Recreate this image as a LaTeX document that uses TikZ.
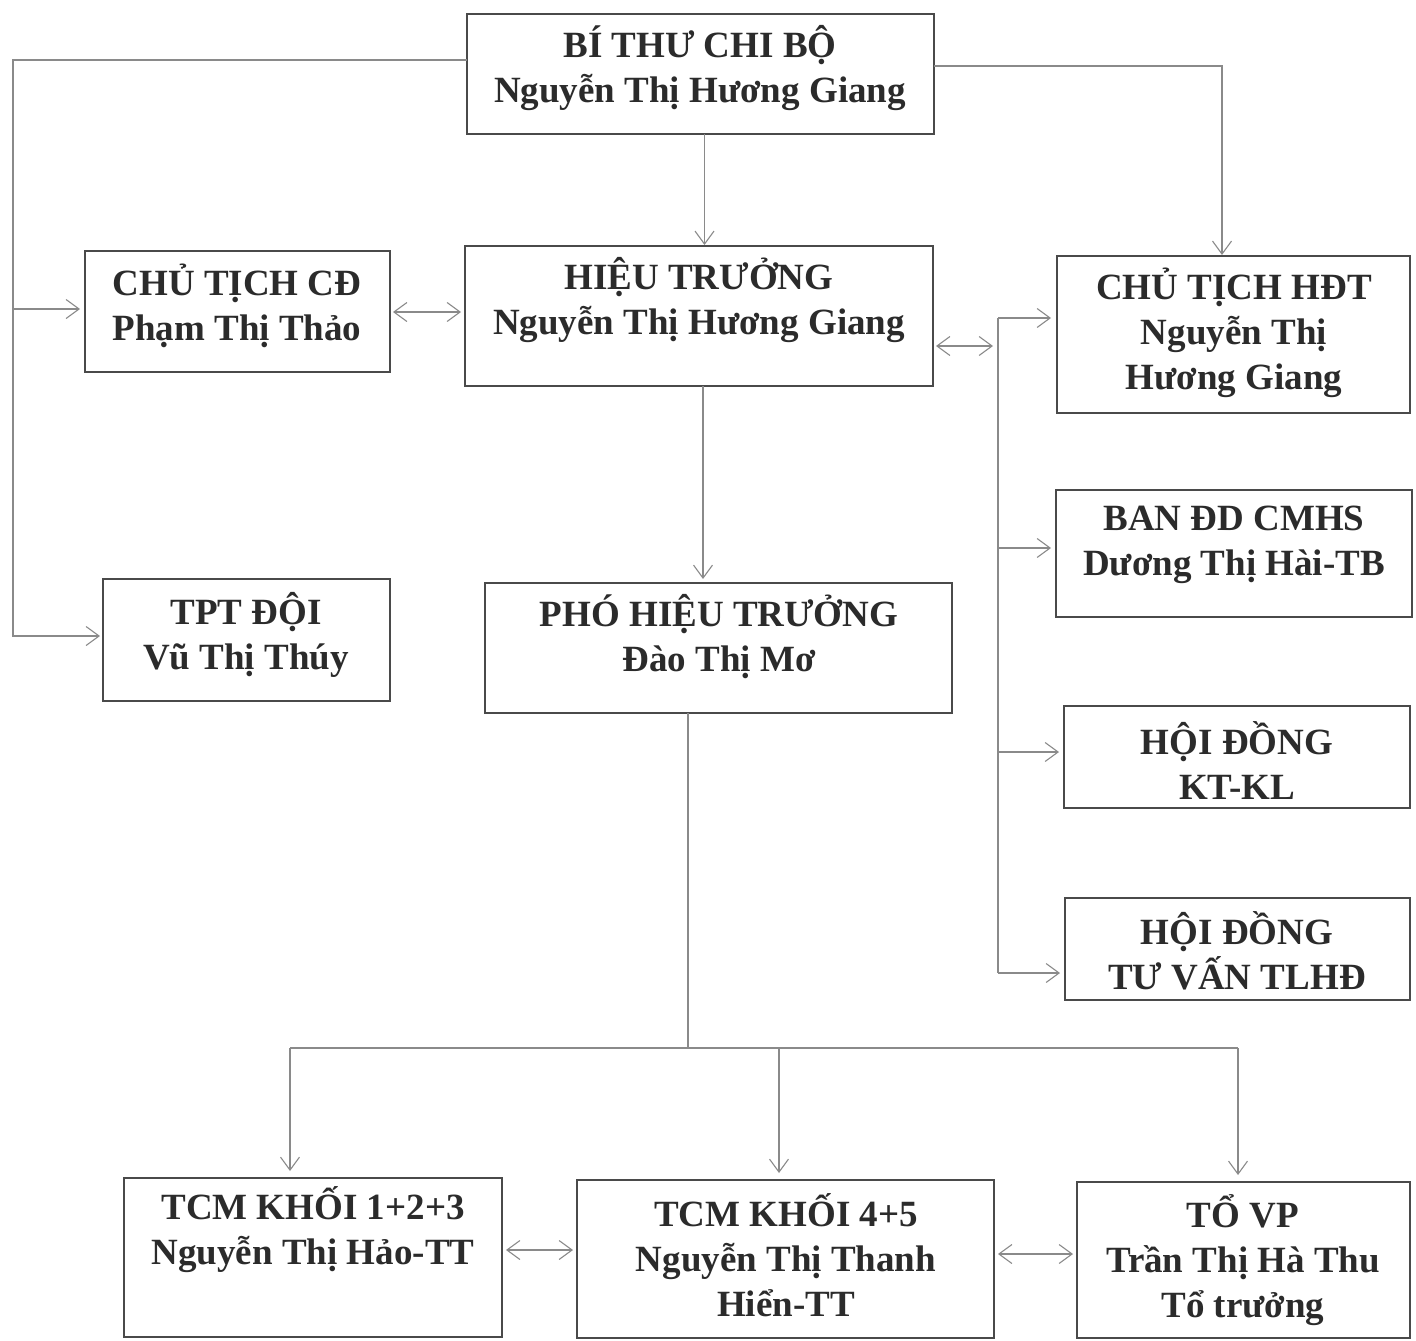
\documentclass[tikz,border=0pt]{standalone}
\usepackage{fontspec}
\setmainfont{Liberation Serif}
\usetikzlibrary{arrows.meta,calc}
\definecolor{boxc}{HTML}{4A4A4A}
\definecolor{linec}{HTML}{8A8A8A}
\definecolor{txtc}{HTML}{2B2B2B}
\begin{document}
\begin{tikzpicture}[x=1pt,y=-1pt,
  box/.style={draw=boxc,line width=1.4pt,inner sep=0pt,outer sep=0pt,rectangle},
  txt/.style={text=txtc,align=center,inner sep=0pt,font=\bfseries\fontsize{37}{45}\selectfont},
  conn/.style={draw=linec,line width=1.1pt},
  arr/.style={conn,-{Straight Barb[length=13pt,width=19pt,line width=1.1pt]}},
  dbl/.style={conn,{Straight Barb[length=13pt,width=19pt,line width=1.1pt]}-{Straight Barb[length=13pt,width=19pt,line width=1.1pt]}}]
\useasboundingbox[fill=white] (0,0) rectangle (1416,1341);

% boxes
\node[box,minimum width=467pt,minimum height=120pt] (bt) at (700.5,74) {};
\node[box,minimum width=305pt,minimum height=121pt] (ctcd) at (237.5,311.5) {};
\node[box,minimum width=468pt,minimum height=140pt] (ht) at (699,316) {};
\node[box,minimum width=353pt,minimum height=157pt] (hdt) at (1233.5,334.5) {};
\node[box,minimum width=356pt,minimum height=127pt] (ban) at (1234,553.5) {};
\node[box,minimum width=346pt,minimum height=102pt] (kt) at (1237,757) {};
\node[box,minimum width=345pt,minimum height=102pt] (tl) at (1237.5,949) {};
\node[box,minimum width=287pt,minimum height=122pt] (tpt) at (246.5,640) {};
\node[box,minimum width=467pt,minimum height=130pt] (pht) at (718.5,648) {};
\node[box,minimum width=378pt,minimum height=159pt] (tcma) at (313,1257.5) {};
\node[box,minimum width=417pt,minimum height=158pt] (tcmb) at (785.5,1259) {};
\node[box,minimum width=333pt,minimum height=156pt] (vp) at (1243.5,1260) {};

% texts
\node[txt] (btT) at (700,68) {BÍ THƯ CHI BỘ\\Nguyễn Thị Hương Giang};
\node[txt] (ctcdT) at (237,306) {CHỦ TỊCH CĐ\\Phạm Thị Thảo};
\node[txt] (htT) at (699,300) {HIỆU TRƯỞNG\\Nguyễn Thị Hương Giang};
\node[txt] (hdtT) at (1234,333) {CHỦ TỊCH HĐT\\Nguyễn Thị\\Hương Giang};
\node[txt] (banT) at (1234,545) {BAN ĐD CMHS\\Dương Thị Hài-TB};
\node[txt] (ktT) at (1237,761) {HỘI ĐỒNG\\KT-KL};
\node[txt] (tlT) at (1237,951) {HỘI ĐỒNG\\TƯ VẤN TLHĐ};
\node[txt] (tptT) at (246,635) {TPT ĐỘI\\Vũ Thị Thúy};
\node[txt] (phtT) at (719,637) {PHÓ HIỆU TRƯỞNG\\Đào Thị Mơ};
\node[txt] (tcmaT) at (313,1230) {TCM KHỐI 1+2+3\\Nguyễn Thị Hảo-TT};
\node[txt] (tcmbT) at (786,1255) {TCM KHỐI 4+5\\Nguyễn Thị Thanh\\Hiển-TT};
\node[txt] (vpT) at (1243,1260) {TỔ VP\\Trần Thị Hà Thu\\Tổ trưởng};

% helper coordinates
\coordinate (L1) at (13,60);
\coordinate (L2) at (13,636);
\coordinate (L3) at (13,309);
\coordinate (R1) at (1222,66);
\coordinate (V1) at (998,318);
\coordinate (V2) at (998,973);
\coordinate (V3) at (998,548);
\coordinate (V4) at (998,752);
\coordinate (H0) at (688,1048);
\coordinate (HL) at (290,1048);
\coordinate (HM) at (779,1048);
\coordinate (HR) at (1238,1048);

% left branch from Bi thu
\draw[arr,shorten >=3pt] ([yshift=14pt]bt.west) -- (L1) -- (L2) -- (L2 -| tpt.west);
\draw[arr,shorten >=5pt] (L3) -- (L3 -| ctcd.west);
% right branch from Bi thu
\draw[arr,shorten >=1pt] ([yshift=8pt]bt.east) -- (R1) -- (R1 |- hdt.north);
% Bi thu -> Hieu truong
\draw[arr,shorten >=1pt] ([xshift=4pt]bt.south) -- ([xshift=4pt]bt.south |- ht.north);
% CTCD <-> HT
\draw[dbl,shorten <=3pt,shorten >=4pt] ([yshift=-0.5pt]ctcd.east) -- ([yshift=-0.5pt]ctcd.east -| ht.west);
% HT <-> right column
\draw[dbl,shorten <=3pt,shorten >=5pt] ([yshift=-30pt]ht.east) -- ([yshift=-30pt]ht.east -| V1);
% right column
\draw[conn] (V1) -- (V2);
\draw[arr,shorten >=6pt] (V1) -- (V1 -| hdt.west);
\draw[arr,shorten >=5pt] (V3) -- (V3 -| ban.west);
\draw[arr,shorten >=5pt] (V4) -- (V4 -| kt.west);
\draw[arr,shorten >=5pt] (V2) -- (V2 -| tl.west);
% HT -> PHT
\draw[arr,shorten >=4pt] ([xshift=4pt]ht.south) -- ([xshift=4pt]ht.south |- pht.north);
% PHT -> bottom row
\draw[conn] ([xshift=-30.5pt]pht.south) -- (H0);
\draw[conn] (HL) -- (HR);
\draw[arr,shorten >=7pt] (HL) -- (HL |- tcma.north);
\draw[arr,shorten >=7pt] (HM) -- (HM |- tcmb.north);
\draw[arr,shorten >=7pt] (HR) -- (HR |- vp.north);
% bottom row links
\draw[dbl,shorten <=4pt,shorten >=4pt] ([yshift=7.5pt]tcma.east) -- ([yshift=7.5pt]tcma.east -| tcmb.west);
\draw[dbl,shorten <=4pt,shorten >=4pt] ([yshift=5pt]tcmb.east) -- ([yshift=5pt]tcmb.east -| vp.west);
\end{tikzpicture}
\end{document}
